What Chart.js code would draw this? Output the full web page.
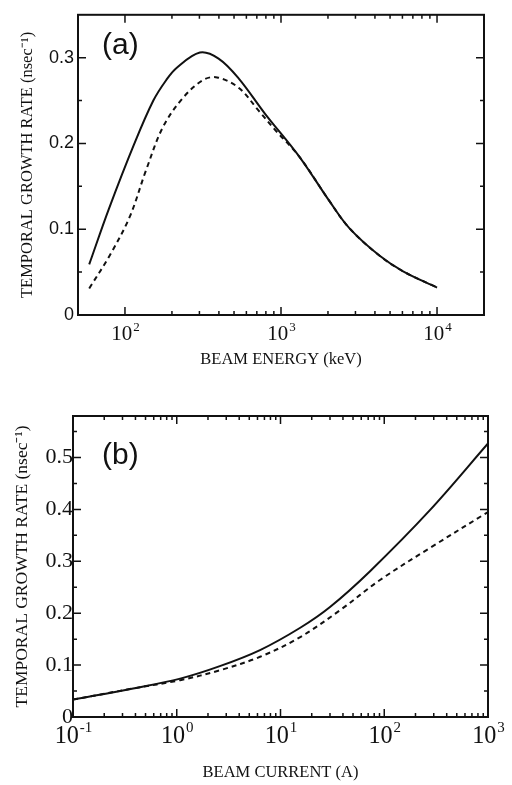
<!DOCTYPE html>
<html lang="en">
<head>
    <meta charset="UTF-8">
    <title>Temporal Growth Rate</title>
    <script src="https://cdn.jsdelivr.net/npm/chart.js"></script>
    <style>
        body { margin: 0; background: #fff; }
        .panel { position: absolute; left: 0; }
    </style>
</head>
<body>
    <div class="panel" style="top:0"><canvas id="chartA" width="512" height="390"></canvas></div>
    <div class="panel" style="top:390px"><canvas id="chartB" width="512" height="395"></canvas></div>

    <script>
        // (a) growth rate vs beam energy
        const energySolidA = [59, 79, 115, 152, 184, 214, 302, 398, 535, 795, 1306, 2040, 2750, 4290, 6060, 10000];
        const rateSolidA = [0.059, 0.124, 0.200, 0.250, 0.274, 0.288, 0.306, 0.299, 0.276, 0.234, 0.185, 0.133, 0.101, 0.069, 0.051, 0.032];
        const energyDashA = [59, 79, 107, 136, 175, 235, 317, 390, 535, 721, 925, 1306, 2040, 2750, 4290, 6060, 10000];
        const rateDashA = [0.031, 0.068, 0.114, 0.168, 0.219, 0.253, 0.274, 0.277, 0.265, 0.238, 0.215, 0.185, 0.133, 0.101, 0.069, 0.051, 0.032];
        const xTicksA = [100, 1000, 10000];
        const xTickExpA = ['2', '3', '4'];
        const yTicksA = [0, 0.1, 0.2, 0.3];
        const yTickLabelsA = ['0', '0.1', '0.2', '0.3'];

        // (b) growth rate vs beam current
        const currentSolidB = [0.1, 0.38, 1.08, 2.6, 6.35, 15.5, 30, 73, 277, 1000];
        const rateSolidB = [0.0335, 0.055, 0.074, 0.098, 0.129, 0.172, 0.212, 0.281, 0.399, 0.527];
        const currentDashB = [0.1, 0.38, 1.08, 2.6, 6.35, 15.5, 37.6, 91, 277, 1000];
        const rateDashB = [0.0335, 0.055, 0.071, 0.090, 0.116, 0.154, 0.206, 0.264, 0.326, 0.395];
        const xTicksB = [0.1, 1, 10, 100, 1000];
        const xTickExpB = ['-1', '0', '1', '2', '3'];
        const yTicksB = [0, 0.1, 0.2, 0.3, 0.4, 0.5];
        const yTickLabelsB = ['0', '0.1', '0.2', '0.3', '0.4', '0.5'];

        const yTitle = 'TEMPORAL GROWTH RATE (nsec\u207B\u00B9)';

        function toPoints(xs, ys) {
            return xs.map((x, i) => ({ x: x, y: ys[i] }));
        }

        // box with inward ticks on all four sides, 10^n labels, panel letter
        const frameTicks = {
            id: 'frameTicks',
            afterDraw(chart, args, opts) {
                const ctx = chart.ctx;
                const a = chart.chartArea;
                const x = chart.scales.x;
                const y = chart.scales.y;
                ctx.save();
                ctx.strokeStyle = '#111';
                ctx.lineWidth = 1.5;
                ctx.beginPath();
                opts.xMajor.forEach(v => {
                    let px = x.getPixelForValue(v);
                    ctx.moveTo(px, a.bottom); ctx.lineTo(px, a.bottom - 8);
                    ctx.moveTo(px, a.top); ctx.lineTo(px, a.top + 8);
                    for (let m = 2; m <= 9; m++) {
                        let pm = x.getPixelForValue(v * m);
                        if (pm > a.right - 1) continue;
                        ctx.moveTo(pm, a.bottom); ctx.lineTo(pm, a.bottom - 4);
                        ctx.moveTo(pm, a.top); ctx.lineTo(pm, a.top + 4);
                    }
                });
                opts.yMinor.forEach(v => {
                    let py = y.getPixelForValue(v);
                    let len = opts.yMajor.includes(v) ? 8 : 4;
                    ctx.moveTo(a.left, py); ctx.lineTo(a.left + len, py);
                    ctx.moveTo(a.right, py); ctx.lineTo(a.right - len, py);
                });
                ctx.stroke();
                ctx.lineWidth = 2;
                ctx.strokeRect(a.left, a.top, a.right - a.left, a.bottom - a.top);

                // tick labels as 10 with a raised exponent
                ctx.fillStyle = '#111';
                ctx.textBaseline = 'alphabetic';
                ctx.textAlign = 'left';
                let base = opts.expSize / 0.62;
                opts.xMajor.forEach((v, i) => {
                    let px = x.getPixelForValue(v);
                    ctx.font = base + 'px "Liberation Serif"';
                    let wb = ctx.measureText('10').width;
                    ctx.font = opts.expSize + 'px "Liberation Serif"';
                    let we = ctx.measureText(opts.xExp[i]).width;
                    let left = px - (wb + we) / 2;
                    let by = a.bottom + opts.baseDrop;
                    ctx.font = base + 'px "Liberation Serif"';
                    ctx.fillText('10', left, by);
                    ctx.font = opts.expSize + 'px "Liberation Serif"';
                    ctx.fillText(opts.xExp[i], left + wb + 1, by - base * 0.45);
                });

                ctx.font = '300 30px "Liberation Sans"';
                ctx.textBaseline = 'middle';
                ctx.fillText(opts.label, opts.labelX, opts.labelY);
                ctx.restore();
            }
        };

        function makeChart(id, cfg) {
            let ctx = document.getElementById(id).getContext('2d');
            return new Chart(ctx, {
                type: 'line',
                data: {
                    datasets: [{
                        data: toPoints(cfg.xSolid, cfg.ySolid),
                        borderColor: '#111',
                        borderWidth: 2,
                        pointRadius: 0,
                        tension: 0.35
                    }, {
                        data: toPoints(cfg.xDash, cfg.yDash),
                        borderColor: '#111',
                        borderWidth: 2,
                        borderDash: [5, 4],
                        pointRadius: 0,
                        tension: 0.35
                    }]
                },
                options: {
                    responsive: false,
                    animation: false,
                    layout: { padding: cfg.padding },
                    plugins: {
                        legend: { display: false },
                        tooltip: { enabled: false },
                        frameTicks: {
                            xMajor: cfg.xTicks,
                            xExp: cfg.xExp,
                            expSize: cfg.expSize,
                            baseDrop: cfg.baseDrop,
                            yMajor: cfg.yTicks,
                            yMinor: cfg.yMinor,
                            label: cfg.label,
                            labelX: cfg.labelX,
                            labelY: cfg.labelY
                        }
                    },
                    scales: {
                        x: {
                            type: 'logarithmic',
                            min: cfg.xMin,
                            max: cfg.xMax,
                            grid: { display: false, drawTicks: false },
                            border: { display: false },
                            afterBuildTicks: s => { s.ticks = cfg.xTicks.map(v => ({ value: v })); },
                            afterFit: s => { s.height = cfg.xAxisHeight; },
                            ticks: { display: false },
                            title: {
                                display: true,
                                text: cfg.xTitle,
                                color: '#111',
                                font: { family: 'Liberation Serif', size: cfg.xTitleSize },
                                padding: { top: 0, bottom: cfg.xTitlePad }
                            }
                        },
                        y: {
                            min: 0,
                            max: cfg.yMax,
                            grid: { display: false, drawTicks: false },
                            border: { display: false },
                            afterBuildTicks: s => { s.ticks = cfg.yTicks.map(v => ({ value: v })); },
                            afterFit: s => { s.width = cfg.yAxisWidth; },
                            ticks: {
                                autoSkip: false,
                                padding: cfg.yTickPad,
                                color: '#111',
                                font: { family: cfg.yTickFont, size: cfg.yTickSize },
                                callback: (v, i) => cfg.yTickLabels[i]
                            },
                            title: {
                                display: true,
                                text: yTitle,
                                color: '#111',
                                font: { family: 'Liberation Serif', size: cfg.yTitleSize },
                                padding: { top: cfg.yTitlePad, bottom: 0 }
                            }
                        }
                    }
                },
                plugins: [frameTicks]
            });
        }

        makeChart('chartA', {
            xSolid: energySolidA, ySolid: rateSolidA,
            xDash: energyDashA, yDash: rateDashA,
            xMin: 50, xMax: 20000, yMax: 0.35,
            xTicks: xTicksA, xExp: xTickExpA, expSize: 13, baseDrop: 25,
            yTicks: yTicksA, yTickLabels: yTickLabelsA,
            yMinor: [0, 0.05, 0.1, 0.15, 0.2, 0.25, 0.3],
            padding: { top: 9, right: 28, left: 0, bottom: 0 },
            xAxisHeight: 75, yAxisWidth: 78,
            yTickSize: 18, yTickFont: 'Liberation Sans', yTickPad: 4,
            xTitle: 'BEAM ENERGY (keV)', xTitleSize: 16.5, xTitlePad: 20,
            yTitleSize: 16.5, yTitlePad: 18,
            label: '(a)', labelX: 102, labelY: 46
        });

        makeChart('chartB', {
            xSolid: currentSolidB, ySolid: rateSolidB,
            xDash: currentDashB, yDash: rateDashB,
            xMin: 0.1, xMax: 1000, yMax: 0.58,
            xTicks: xTicksB, xExp: xTickExpB, expSize: 15, baseDrop: 26,
            yTicks: yTicksB, yTickLabels: yTickLabelsB,
            yMinor: [0, 0.05, 0.1, 0.15, 0.2, 0.25, 0.3, 0.35, 0.4, 0.45, 0.5, 0.55],
            padding: { top: 26, right: 24, left: 0, bottom: 0 },
            xAxisHeight: 68, yAxisWidth: 73,
            yTickSize: 22, yTickFont: 'Liberation Serif', yTickPad: 0,
            xTitle: 'BEAM CURRENT (A)', xTitleSize: 16.5, xTitlePad: 2,
            yTitleSize: 17.5, yTitlePad: 11.5,
            label: '(b)', labelX: 102, labelY: 66
        });
    </script>
</body>
</html>
